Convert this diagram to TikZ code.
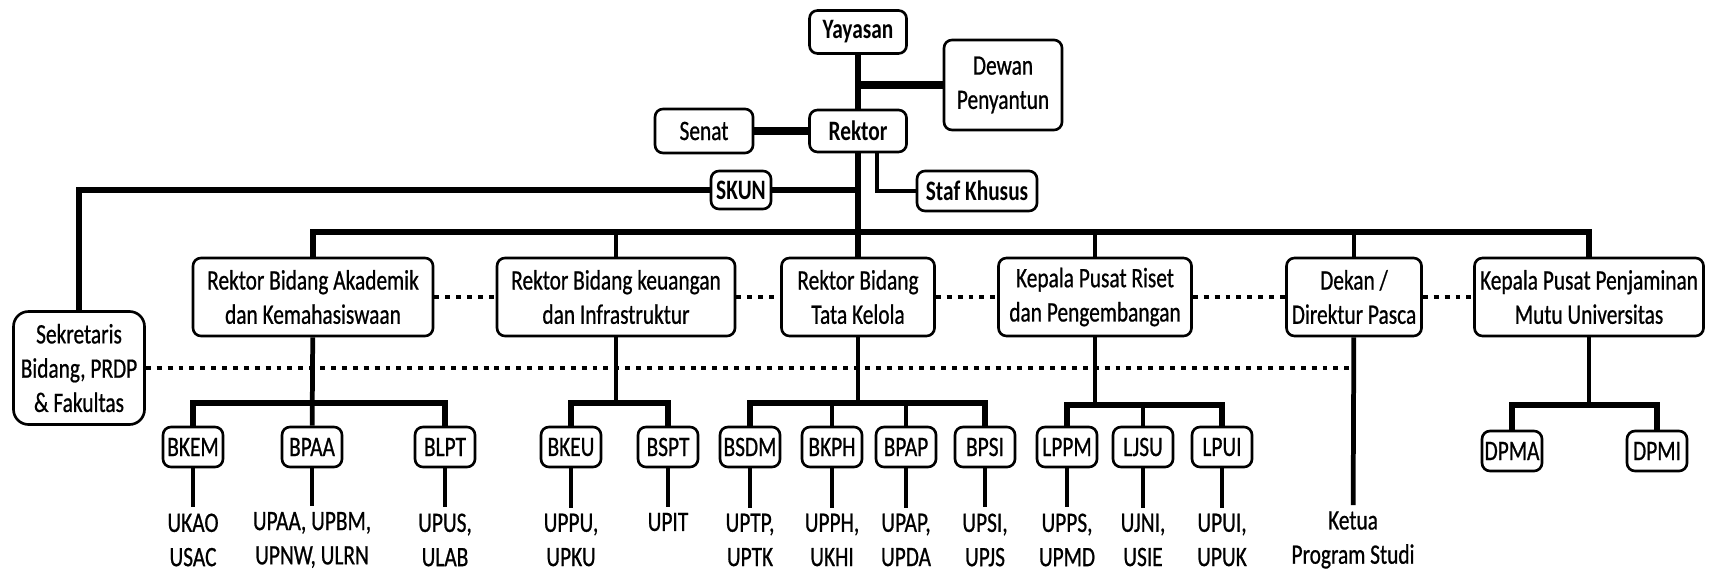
\documentclass[tikz,border=0pt]{standalone}
\usepackage{fontspec}
\setmainfont{Carlito}[FakeStretch=0.76, UprightFeatures={FakeBold=0.7}]
\usepackage{tikz}

\begin{document}
\begin{tikzpicture}[x=0.2mm, y=-0.2mm,
                % Stile dei riquadri arrotondati
                kotak/.style={
                    draw,
                    rectangle,
                    rounded corners=1.6mm,
                    line width=1.5pt,
                    inner sep=1pt,
                    align=center,
                    font=\fontsize{16}{19.5}\selectfont
                },
                tebal/.style={font=\fontsize{16}{19.5}\selectfont\bfseries},
                pejabat/.style={kotak, minimum height=15.6mm},
                unit/.style={kotak, minimum width=12mm, minimum height=8mm},
                % Testo libero sotto le unita
                teks/.style={align=center, font=\fontsize{16}{19.5}\selectfont},
                % Linee di collegamento
                garis/.style={line width=3.6pt},
                cabang/.style={line width=2.7pt},
                putus/.style={line width=2.8pt, dash pattern=on 2.8pt off 3.4pt}
            ]
                \useasboundingbox (0,0) rectangle (1713,577);

                % 1. Vertice: Yayasan, Rektor e organi vicini
                \node [kotak, tebal, minimum width=19.4mm, minimum height=8.6mm] (yayasan) at (858,32) {Yayasan};
                \node [kotak, minimum width=23.6mm, minimum height=18mm] (dewan) at (1003,85) {Dewan\\Penyantun};
                \node [kotak, minimum width=19.6mm, minimum height=8.8mm] (senat) at (704,131) {Senat};
                \node [kotak, tebal, minimum width=19.4mm, minimum height=8.4mm] (rektor) at (858,131) {Rektor};
                \node [kotak, tebal, minimum width=12mm, minimum height=7.6mm] (skun) at (741,190) {SKUN};
                \node [kotak, tebal, minimum width=24mm, minimum height=8mm] (staf) at (977,191) {Staf Khusus};
                \node [kotak, rounded corners=3mm, minimum width=26.2mm, minimum height=22.6mm] (sekretaris) at (79,368) {Sekretaris\\Bidang, PRDP\\\& Fakultas};

                % 2. Secondo livello
                \node [pejabat, minimum width=48mm] (rba) at (313,297) {Rektor Bidang Akademik\\dan Kemahasiswaan};
                \node [pejabat, minimum width=47.6mm] (rbk) at (616,297) {Rektor Bidang keuangan\\dan Infrastruktur};
                \node [pejabat, minimum width=30.6mm] (rbtk) at (858,297) {Rektor Bidang\\Tata Kelola};
                \node [pejabat, minimum width=38.6mm] (kpr) at (1095,297) {Kepala Pusat Riset\\dan Pengembangan};
                \node [pejabat, minimum width=27mm] (dekan) at (1354,297) {Dekan /\\Direktur Pasca};
                \node [pejabat, minimum width=45.8mm] (kppm) at (1589,297) {Kepala Pusat Penjaminan\\Mutu Universitas};

                % 3. Unita del terzo livello
                \node [unit] (bkem) at (193,447) {BKEM};
                \node [unit] (bpaa) at (312,447) {BPAA};
                \node [unit] (blpt) at (445,447) {BLPT};
                \node [unit] (bkeu) at (571,447) {BKEU};
                \node [unit] (bspt) at (668,447) {BSPT};
                \node [unit] (bsdm) at (750,447) {BSDM};
                \node [unit] (bkph) at (832,447) {BKPH};
                \node [unit] (bpap) at (906,447) {BPAP};
                \node [unit] (bpsi) at (985,447) {BPSI};
                \node [unit] (lppm) at (1067,447) {LPPM};
                \node [unit] (ljsu) at (1143,447) {LJSU};
                \node [unit] (lpui) at (1222,447) {LPUI};
                \node [unit] (dpma) at (1512,451) {DPMA};
                \node [unit] (dpmi) at (1657,451) {DPMI};

                % 4. Testi in basso
                \node [teks] (tbkem) at (193,540) {UKAO\\USAC};
                \node [teks] (tbpaa) at (312,540) {UPAA, UPBM,\\UPNW, ULRN};
                \node [teks] (tblpt) at (445,540) {UPUS,\\ULAB};
                \node [teks] (tbkeu) at (571,540) {UPPU,\\UPKU};
                \node [teks] (tbspt) at (668,522) {UPIT};
                \node [teks] (tbsdm) at (750,540) {UPTP,\\UPTK};
                \node [teks] (tbkph) at (832,540) {UPPH,\\UKHI};
                \node [teks] (tbpap) at (906,540) {UPAP,\\UPDA};
                \node [teks] (tbpsi) at (985,540) {UPSI,\\UPJS};
                \node [teks] (tlppm) at (1067,540) {UPPS,\\UPMD};
                \node [teks] (tljsu) at (1143,540) {UJNI,\\USIE};
                \node [teks] (tlpui) at (1222,540) {UPUI,\\UPUK};
                \node [teks] (ketua) at (1353,540) {Ketua\\Program Studi};

                % 5. Collegamenti in alto
                \draw [garis] (yayasan) -- (rektor);
                \draw [garis, line width=4pt] (dewan.west) -- (dewan.west -| yayasan);
                \draw [garis, line width=4.2pt] (senat.east) -- (rektor.west);
                \draw [garis] (rektor) -- (rbtk);
                \draw [cabang] (staf.west) -| ([xshift=3.8mm]rektor.south);
                \draw [garis] (skun.east) -- (skun.east -| rektor);
                \draw [garis] (skun.west) -| (sekretaris.north);

                % 6. Bus principale verso il secondo livello
                \coordinate (busutama) at (858,232);
                \draw [garis] (rba.north) |- (busutama) -| (kppm.north);
                \draw [cabang] (rbk.north) -- (rbk.north |- busutama);
                \draw [cabang] (kpr.north) -- (kpr.north |- busutama);
                \draw [cabang] (dekan.north) -- (dekan.north |- busutama);

                % 7. Linee tratteggiate di coordinamento
                \draw [putus] (rba.east) -- (rbk.west);
                \draw [putus] (rbk.east) -- (rbtk.west);
                \draw [putus] (rbtk.east) -- (kpr.west);
                \draw [putus] (kpr.east) -- (dekan.west);
                \draw [putus] (dekan.east) -- (kppm.west);
                \draw [putus] (sekretaris.east) -- (sekretaris.east -| dekan);

                % 8. Rami verso le unita
                \coordinate (busa) at (313,403);
                \draw [garis] (bkem.north) |- (busa) -| (blpt.north);
                \draw [cabang] (rba) -- (bpaa);
                \coordinate (busb) at (616,403);
                \draw [garis] (bkeu.north) |- (busb) -| (bspt.north);
                \draw [cabang] (rbk) -- (busb);
                \coordinate (busc) at (858,403);
                \draw [garis] (bsdm.north) |- (busc) -| (bpsi.north);
                \draw [cabang] (rbtk) -- (busc);
                \draw [cabang] (bkph.north) -- (bkph.north |- busc);
                \draw [cabang] (bpap.north) -- (bpap.north |- busc);
                \coordinate (busd) at (1095,405);
                \draw [garis] (lppm.north) |- (busd) -| (lpui.north);
                \draw [cabang] (kpr) -- (busd);
                \draw [cabang] (ljsu.north) -- (ljsu.north |- busd);
                \coordinate (buse) at (1589,405);
                \draw [garis] (dpma.north) |- (buse) -| (dpmi.north);
                \draw [cabang] (kppm) -- (buse);

                % 9. Dalle unita ai testi
                \draw [cabang] (bkem) -- (tbkem);
                \draw [cabang] (bpaa) -- (tbpaa);
                \draw [cabang] (blpt) -- (tblpt);
                \draw [cabang] (bkeu) -- (tbkeu);
                \draw [cabang] (bspt) -- (tbspt);
                \draw [cabang] (bsdm) -- (tbsdm);
                \draw [cabang] (bkph) -- (tbkph);
                \draw [cabang] (bpap) -- (tbpap);
                \draw [cabang] (bpsi) -- (tbpsi);
                \draw [cabang] (lppm) -- (tlppm);
                \draw [cabang] (ljsu) -- (tljsu);
                \draw [cabang] (lpui) -- (tlpui);
                \draw [cabang] (dekan) -- (ketua);

            \end{tikzpicture}
\end{document}
